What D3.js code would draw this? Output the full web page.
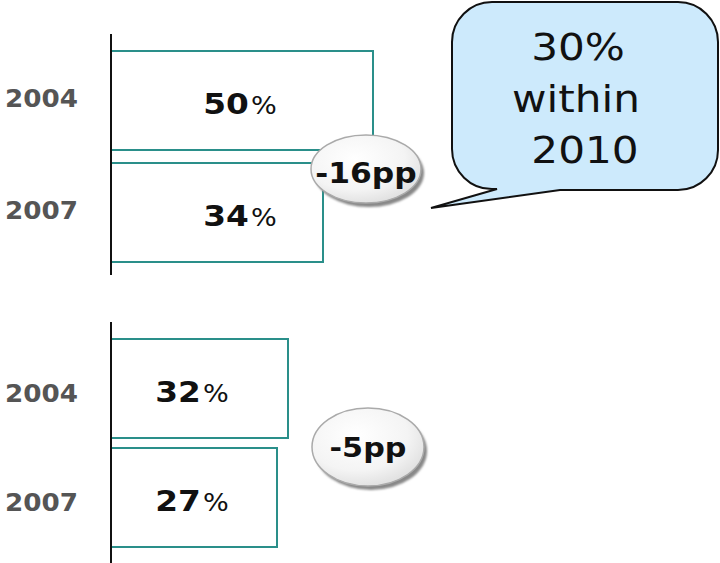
<!DOCTYPE html>
<html>
<head>
<meta charset="utf-8">
<script src="https://cdn.jsdelivr.net/npm/d3@7"></script>
<style>
    body { margin: 0; background: #fff; }
    svg { display: block; }
    .bar { fill: #fff; stroke: #2a8f8a; stroke-width: 2; }
    .year { font-family: 'DejaVu Sans', sans-serif; font-weight: bold; font-size: 24.5px; fill: #555; }
    .val { font-family: 'DejaVu Sans', sans-serif; font-weight: bold; font-size: 29px; fill: #111; }
    .pp { font-family: 'DejaVu Sans', sans-serif; font-weight: bold; font-size: 28px; fill: #111; }
    .callout { font-family: 'DejaVu Sans', sans-serif; font-size: 38px; fill: #111; }
</style>
</head>
<body>
<div id="chart"></div>
<script>
var years = ['2004', '2007'];
var topValues = [50, 34];
var bottomValues = [32, 27];
var changeLabels = ['-16pp', '-5pp'];
var calloutLines = ['30%', 'within', '2010'];

var width = 720, height = 563;

var svg = d3.select('#chart').append('svg')
    .attr('width', width)
    .attr('height', height);

var defs = svg.append('defs');
var grad = defs.append('radialGradient')
    .attr('id', 'pill')
    .attr('cx', '40%').attr('cy', '35%').attr('r', '70%');
grad.append('stop').attr('offset', '0%').attr('stop-color', '#ffffff');
grad.append('stop').attr('offset', '65%').attr('stop-color', '#f4f4f4');
grad.append('stop').attr('offset', '100%').attr('stop-color', '#dedede');
defs.append('filter').attr('id', 'blur')
    .append('feGaussianBlur').attr('stdDeviation', 1.2);

// text is a bit wider than the font in the original, stretch it
function stretched(sel, x, y, sx){
    return sel.attr('x', 0).attr('y', 0)
        .attr('transform', 'translate(' + [x, y] + ') scale(' + sx + ',1)');
}

// panels: each one its own band scale and (not proportional) width scale
var panels = [
    {values: topValues, yRange: [51, 262], pad: 13 / 112, wRange: [212, 262], axis: [34, 275],
        yearDy: 6, labelX: 240, change: changeLabels[0], pill: [366, 169, 55, 34], ppY: 183, ppSize: 28},
    {values: bottomValues, yRange: [339, 547], pad: 10 / 109, wRange: [166, 177], axis: [322, 563],
        yearDy: 13, labelX: 192, change: changeLabels[1], pill: [368, 447, 56, 39], ppY: 457, ppSize: 27}
];

var left = 111;

panels.forEach(function(p){
    var data = years.map(function(y, i){ return {year: y, value: p.values[i]}; });

    var y = d3.scaleBand().domain(years).range(p.yRange).paddingInner(p.pad).paddingOuter(0);
    var w = d3.scaleLinear().domain(d3.extent(p.values)).range(p.wRange);

    var g = svg.append('g');

    g.selectAll('rect.bar').data(data).enter()
        .append('rect')
        .attr('class', 'bar')
        .attr('x', left)
        .attr('y', function(d){ return y(d.year); })
        .attr('width', function(d){ return w(d.value); })
        .attr('height', y.bandwidth());

    // axis line
    g.append('line')
        .attr('x1', left).attr('x2', left)
        .attr('y1', p.axis[0]).attr('y2', p.axis[1])
        .attr('stroke', '#111').attr('stroke-width', 2);

    data.forEach(function(d){
        var cy = y(d.year) + y.bandwidth() / 2;
        stretched(g.append('text').attr('class', 'year'), 5, cy + p.yearDy, 1.07)
            .text(d.year);

        var vt = stretched(g.append('text').attr('class', 'val').attr('text-anchor', 'middle'),
            p.labelX, cy + 13, 1.13);
        vt.append('tspan').text(d.value);
        vt.append('tspan').attr('dx', 2).style('font-size', '24px').style('font-weight', 'normal').text('%');
    });

    // change pill
    var c = p.pill;
    g.append('ellipse')
        .attr('cx', c[0] + 3).attr('cy', c[1] + 4)
        .attr('rx', c[2]).attr('ry', c[3])
        .attr('fill', '#888')
        .attr('filter', 'url(#blur)');
    g.append('ellipse')
        .attr('cx', c[0]).attr('cy', c[1])
        .attr('rx', c[2]).attr('ry', c[3])
        .attr('fill', 'url(#pill)')
        .attr('stroke', '#aaa').attr('stroke-width', 1.5);
    stretched(g.append('text').attr('class', 'pp').attr('text-anchor', 'middle')
        .style('font-size', p.ppSize + 'px'), c[0], p.ppY, 1.12)
        .text(p.change);
});

// callout bubble
var bx0 = 452, by0 = 2, bx1 = 718, by1 = 190, r = 40;
var path = d3.path();
path.moveTo(bx0 + r, by0);
path.lineTo(bx1 - r, by0);
path.arcTo(bx1, by0, bx1, by0 + r, r);
path.lineTo(bx1, by1 - r);
path.arcTo(bx1, by1, bx1 - r, by1, r);
path.lineTo(560, by1);
path.lineTo(431, 208);
path.lineTo(497, by1 - 1);
path.arcTo(bx0, by1, bx0, by1 - r, r);
path.lineTo(bx0, by0 + r);
path.arcTo(bx0, by0, bx0 + r, by0, r);
path.closePath();

svg.append('path')
    .attr('d', path.toString())
    .attr('fill', '#cdeafc')
    .attr('stroke', '#111')
    .attr('stroke-width', 2);

var calloutX = [578, 576, 585];
calloutLines.forEach(function(line, i){
    stretched(svg.append('text').attr('class', 'callout').attr('text-anchor', 'middle'),
        calloutX[i], 60 + i * 51.5, 1.11)
        .text(line);
});
</script>
</body>
</html>
